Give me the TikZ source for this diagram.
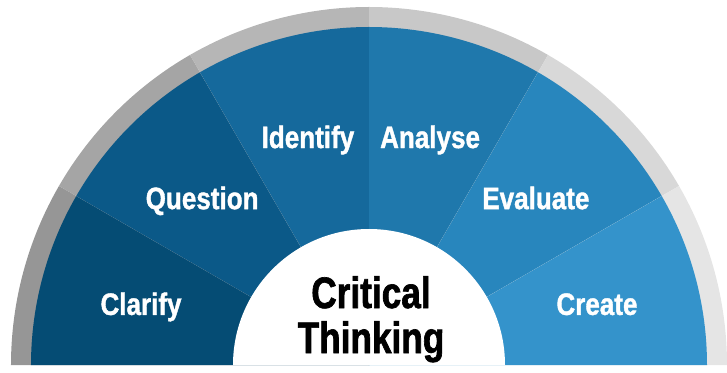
\documentclass[tikz,border=0pt]{standalone}
\usepackage{fontspec}
\setmainfont{Liberation Sans}[FakeStretch=0.84, BoldFeatures={FakeBold=1.2}]
\newfontfamily\centerfont{Liberation Sans}[FakeStretch=0.8, BoldFeatures={FakeBold=1.5}]
\definecolor{b1}{RGB}{5,76,116}
\definecolor{b2}{RGB}{11,89,136}
\definecolor{b3}{RGB}{21,105,156}
\definecolor{b4}{RGB}{31,120,172}
\definecolor{b5}{RGB}{40,134,189}
\definecolor{b6}{RGB}{52,147,203}
\definecolor{g1}{RGB}{150,150,150}
\definecolor{g2}{RGB}{165,165,165}
\definecolor{g3}{RGB}{182,182,182}
\definecolor{g4}{RGB}{200,200,200}
\definecolor{g5}{RGB}{216,216,216}
\definecolor{g6}{RGB}{229,229,229}
\tikzset{
  lbl/.style={text=white, font=\bfseries\fontsize{31}{31}\selectfont, anchor=base, inner sep=0pt},
  ctr/.style={text=black, font=\centerfont\bfseries\fontsize{44}{44}\selectfont, anchor=base, inner sep=0pt}
}
\begin{document}
\begin{tikzpicture}[x=1pt,y=1pt]
\useasboundingbox (-369,-7) rectangle (358,365);
\coordinate (O) at (0,0);
\foreach \i/\bc/\gc in {1/b1/g1,2/b2/g2,3/b3/g3,4/b4/g4,5/b5/g5,6/b6/g6}{
  \pgfmathsetmacro{\aa}{180-30*\i}
  \pgfmathsetmacro{\ab}{210-30*\i}
  \fill[\gc] (O) -- (\aa:358) arc[start angle=\aa, end angle=\ab, radius=358] -- cycle;
  \fill[\bc] (O) -- (\aa:338) arc[start angle=\aa, end angle=\ab, radius=338] -- cycle;
}
\fill[white] (136,0) arc[start angle=0, end angle=180, radius=136] -- cycle;
\node[lbl] (clarify) at ([yshift=-11pt]165:236) {Clarify};
\node[lbl] (question) at ([yshift=-11pt]135:236) {Question};
\node[lbl] (identify) at ([yshift=-11pt]105:236) {Identify};
\node[lbl] (analyse) at ([yshift=-11pt]75:236) {Analyse};
\node[lbl] (evaluate) at ([yshift=-11pt]45:236) {Evaluate};
\node[lbl] (create) at ([yshift=-11pt]15:236) {Create};
\node[ctr] (critical) at (2,57) {Critical};
\node[ctr] (thinking) at (2,12) {Thinking};
\end{tikzpicture}
\end{document}
